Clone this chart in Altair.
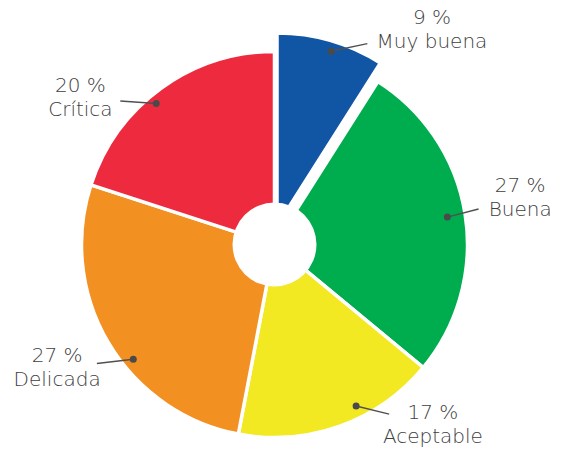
import math
import altair as alt
import pandas as pd

# ---- data ----
categories = ["Muy buena", "Buena", "Aceptable", "Delicada", "Crítica"]
values = [9, 27, 17, 27, 20]
colors = ["#1155a5", "#00ad4e", "#f2e923", "#f39022", "#ee2b3e"]

# ---- layout (pixels / degrees) ----
W, H = 547, 442
CX, CY = 266.5, 236.5          # pie centre inside the chart
R_OUT, R_HOLE = 193, 42
EXPLODE = (2.5, 18.5)          # shift of the exploded slice (right, up)
dot_nudge = [1.0, 0.0, -7.0, -8.5, -4.0]         # degrees, added to slice mid angle
dot_radius = [183, 175, 181, 182, 184]
label_nudge = [20.1, -1.7, -21.5, 1.0, -17.0]
label_radius = [266, 250, 240, 250, 243]
leader_gap = [66, 43, 45, 40, 40]
LINE_H = 24

rows = []
cum = 0
for i, (c, v) in enumerate(zip(categories, values)):
    start, end = cum, cum + v
    cum = end
    mid_deg = (start + end) / 2 / 100 * 360
    ox, oy = EXPLODE if i == 0 else (0, 0)
    da = math.radians(mid_deg + dot_nudge[i])
    dx, dy = dot_radius[i] * math.sin(da) + ox, dot_radius[i] * math.cos(da) + oy
    la = math.radians(mid_deg + label_nudge[i])
    lx, ly = label_radius[i] * math.sin(la), label_radius[i] * math.cos(la)
    d = math.hypot(dx - lx, dy - ly)
    ex, ey = lx + (dx - lx) / d * leader_gap[i], ly + (dy - ly) / d * leader_gap[i]
    rows.append(dict(cat=c, value=v, start=start, end=end, idx=i,
                     dot_x=dx, dot_y=dy, lab_x=lx, lab_y=ly, end_x=ex, end_y=ey,
                     label=f"{v} %\n{c}"))
df = pd.DataFrame(rows)

xs = alt.Scale(domain=[-CX, W - CX])
ys = alt.Scale(domain=[-(H - CY), CY])
theta_scale = alt.Scale(domain=[0, 100], range=[0, 2 * math.pi])
color = alt.Color("cat:N", scale=alt.Scale(domain=categories, range=colors), legend=None)

base = alt.Chart(df)

slices = base.transform_filter("datum.idx > 0").mark_arc(
    outerRadius=R_OUT, innerRadius=0, stroke="white", strokeWidth=3.5
).encode(
    theta=alt.Theta("start:Q", scale=theta_scale),
    theta2="end:Q",
    color=color,
    x=alt.value(CX), y=alt.value(CY),
)

exploded = base.transform_filter("datum.idx == 0").mark_arc(
    outerRadius=R_OUT, innerRadius=0, stroke="white", strokeWidth=3.5
).encode(
    theta=alt.Theta("start:Q", scale=theta_scale),
    theta2="end:Q",
    color=color,
    x=alt.value(CX + EXPLODE[0]), y=alt.value(CY - EXPLODE[1]),
)

hole = alt.Chart(pd.DataFrame({"x": [0], "y": [0]})).mark_circle(
    size=(2 * R_HOLE) ** 2, color="white", opacity=1
).encode(
    x=alt.X("x:Q", scale=xs, axis=None),
    y=alt.Y("y:Q", scale=ys, axis=None),
)

leaders = base.mark_rule(color="#505050", strokeWidth=1.5).encode(
    x=alt.X("dot_x:Q", scale=xs, axis=None),
    y=alt.Y("dot_y:Q", scale=ys, axis=None),
    x2="end_x:Q", y2="end_y:Q",
)

dots = base.mark_circle(size=49, color="#4a4a4a", opacity=1).encode(
    x=alt.X("dot_x:Q", scale=xs, axis=None),
    y=alt.Y("dot_y:Q", scale=ys, axis=None),
)

labels = base.mark_text(
    font="DejaVu Sans", fontSize=20, fontWeight=300, color="#404040", lineBreak="\n",
    lineHeight=LINE_H, align="center", baseline="middle", dy=-LINE_H / 2
).encode(
    x=alt.X("lab_x:Q", scale=xs, axis=None),
    y=alt.Y("lab_y:Q", scale=ys, axis=None),
    text="label:N",
)

chart = alt.layer(slices, exploded, hole, leaders, dots, labels).properties(
    width=W, height=H, autosize=alt.AutoSizeParams(type="none"), padding=0
).configure_view(stroke=None)

chart.save("out.html", embed_options={"renderer": "svg", "actions": False})
